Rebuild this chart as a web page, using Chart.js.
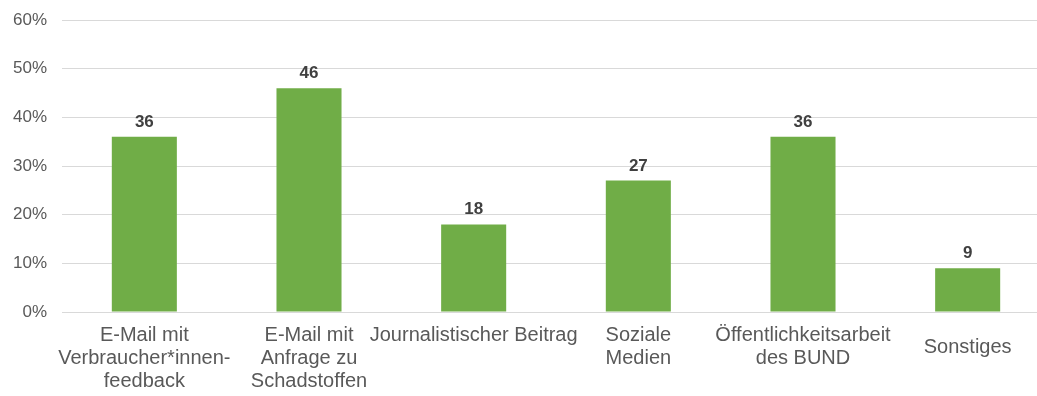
<!DOCTYPE html>
<html lang="de">
<head>
<meta charset="utf-8">
<title>Kontaktanlass</title>
<script src="https://cdn.jsdelivr.net/npm/chart.js@4/dist/chart.umd.min.js"></script>
<style>
  html, body { margin: 0; padding: 0; background: #ffffff; overflow: hidden; }
  #wrap { position: relative; width: 1050px; height: 396px; }
</style>
</head>
<body>
<div id="wrap"><canvas id="chart"></canvas></div>
<script>
// Anlass der Kontaktaufnahme (Anteil in %)
const categories = [
  ['E-Mail mit', 'Verbraucher*innen-', 'feedback'],
  ['E-Mail mit', 'Anfrage zu', 'Schadstoffen'],
  'Journalistischer Beitrag',
  ['Soziale', 'Medien'],
  ['Öffentlichkeitsarbeit', 'des BUND'],
  'Sonstiges'
];
const shares = [36, 46, 18, 27, 36, 9];
const yTicks = [0, 10, 20, 30, 40, 50, 60];

const FONT = '"Liberation Sans", Arial, sans-serif';
const BAR_GREEN = '#70ad47';
const GRID_GREY = '#d9d9d9';
const TEXT_GREY = '#595959';
const VALUE_GREY = '#404040';

// Writes each bar's value above it
const valueLabels = {
  id: 'valueLabels',
  afterDatasetsDraw(chart) {
    const ctx = chart.ctx;
    const meta = chart.getDatasetMeta(0);
    ctx.save();
    ctx.font = 'bold 17px ' + FONT;
    ctx.fillStyle = VALUE_GREY;
    ctx.textAlign = 'center';
    ctx.textBaseline = 'alphabetic';
    meta.data.forEach((bar, i) => {
      ctx.fillText(String(chart.data.datasets[0].data[i]), bar.x, bar.y - 10);
    });
    ctx.restore();
  }
};

new Chart(document.getElementById('chart'), {
  type: 'bar',
  data: {
    labels: categories,
    datasets: [{
      data: shares,
      backgroundColor: BAR_GREEN,
      borderWidth: 0,
      categoryPercentage: 1,
      barPercentage: 0.395
    }]
  },
  options: {
    responsive: true,
    maintainAspectRatio: false,
    animation: false,
    layout: { padding: { left: 13, right: 0, top: 20, bottom: 0 } },
    plugins: {
      legend: { display: false },
      tooltip: { enabled: false }
    },
    scales: {
      x: {
        grid: { display: false, drawTicks: false },
        border: { display: true, color: GRID_GREY, width: 1 },
        ticks: {
          color: TEXT_GREY,
          padding: 12,
          maxRotation: 0,
          autoSkip: false,
          font: (c) => ({
            family: FONT,
            size: 20,
            lineHeight: c.index === 5 ? 2.37 : 1.15
          })
        },
        // wide category labels may hang past the plot edges
        afterFit(scale) {
          scale.paddingLeft = 0;
          scale.paddingRight = 0;
          scale.height = 84;
        }
      },
      y: {
        min: 0,
        max: 60,
        afterBuildTicks(scale) {
          scale.ticks = yTicks.map(v => ({ value: v }));
        },
        grid: { color: GRID_GREY, lineWidth: 1, drawTicks: false },
        border: { display: false },
        ticks: {
          color: TEXT_GREY,
          padding: 15,
          font: { family: FONT, size: 17 },
          callback: (v) => v + '%'
        },
        afterFit(scale) {
          scale.paddingTop = 0;
          scale.paddingBottom = 0;
          scale.width = 49;
        }
      }
    }
  },
  plugins: [valueLabels]
});
</script>
</body>
</html>
